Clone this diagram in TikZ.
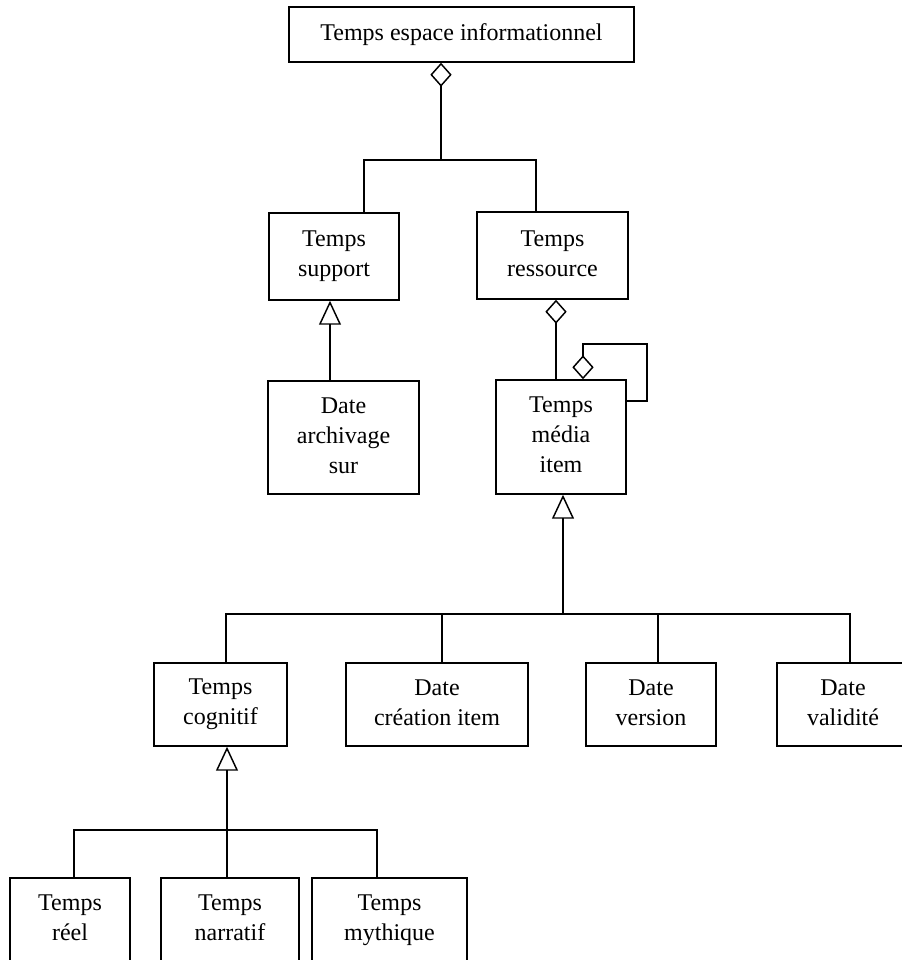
\documentclass[tikz,border=0pt]{standalone}
\usepackage{fontspec}
\setmainfont{Liberation Serif}
\usetikzlibrary{arrows.meta}

\tikzset{
  classbox/.style={draw=black,fill=white,rectangle,align=center,inner sep=0pt,
    font=\fontsize{18}{22.5}\selectfont,
    execute at begin node={\rule{0pt}{0.72em}},
    execute at end node={\rule[-0.18em]{0pt}{0pt}}},
  boxsize/.style 2 args={minimum width=#1*0.75pt,minimum height=#2*0.75pt},
  aggr/.style={-{Diamond[open,length=18pt,width=16pt]}},
  gen/.style={-{Triangle[open,length=18pt,width=16.5pt]}}
}

\begin{document}
\begin{tikzpicture}[x=0.75pt,y=-0.75pt,line width=1.1pt]
\useasboundingbox (0,0) rectangle (902,960);

\node[classbox,boxsize={345}{55}] (espace) at (461.5,34.5) {Temps espace informationnel};
\node[classbox,boxsize={130}{87}] (support) at (334,256.5) {Temps\\support};
\node[classbox,boxsize={151}{87}] (ressource) at (552.5,255.5) {Temps\\ressource};
\node[classbox,boxsize={151}{113}] (archivage) at (343.5,437.5) {Date\\archivage\\sur};
\node[classbox,boxsize={130}{114}] (media) at (561,437) {Temps\\média\\item};

\node[classbox,boxsize={133}{83}] (cognitif) at (220.5,704.5) {Temps\\cognitif};
\node[classbox,boxsize={182}{83}] (creation) at (437,704.5) {Date\\création item};
\node[classbox,boxsize={130}{83}] (version) at (651,704.5) {Date\\version};
\node[classbox,boxsize={132}{83}] (validite) at (843,704.5) {Date\\validité};

\node[classbox,boxsize={120}{84}] (reel) at (70,920) {Temps\\réel};
\node[classbox,boxsize={138}{84}] (narratif) at (230,920) {Temps\\narratif};
\node[classbox,boxsize={155}{84}] (mythique) at (389.5,920) {Temps\\mythique};

% points where the connectors turn
\coordinate (c0) at (441,160);
\coordinate (cl) at (364,160);
\coordinate (cr) at (536,160);
\coordinate (a1) at (330,340);
\coordinate (a2) at (556,340);
\coordinate (loop) at (647,344);
\coordinate (lx) at (583,401);
\coordinate (h0) at (563,614);
\coordinate (d1) at (226,614);
\coordinate (d2) at (442,614);
\coordinate (d3) at (658,614);
\coordinate (d4) at (850,614);
\coordinate (e1) at (74,830);
\coordinate (e2) at (227,830);
\coordinate (e3) at (377,830);

% aggregations
\draw[aggr] (c0) -- (c0 |- espace.south);
\draw (support.north -| cl) -- (cl) -- (cr) -- (ressource.north -| cr);
\draw[aggr] (a2 |- media.north) -- (a2 |- ressource.south);
\draw[aggr] (media.east |- lx) -| (loop) -| (lx |- media.north);

% generalisations
\draw[gen] (a1 |- archivage.north) -- (a1 |- support.south);
\draw[gen] (h0) -- (h0 |- media.south);
\draw (cognitif.north -| d1) |- (d4) -- (validite.north -| d4);
\draw (d2) -- (d2 |- creation.north);
\draw (d3) -- (d3 |- version.north);
\draw[gen] (e2 |- narratif.north) -- (e2 |- cognitif.south);
\draw (reel.north -| e1) |- (e3) -- (mythique.north -| e3);
\end{tikzpicture}
\end{document}
